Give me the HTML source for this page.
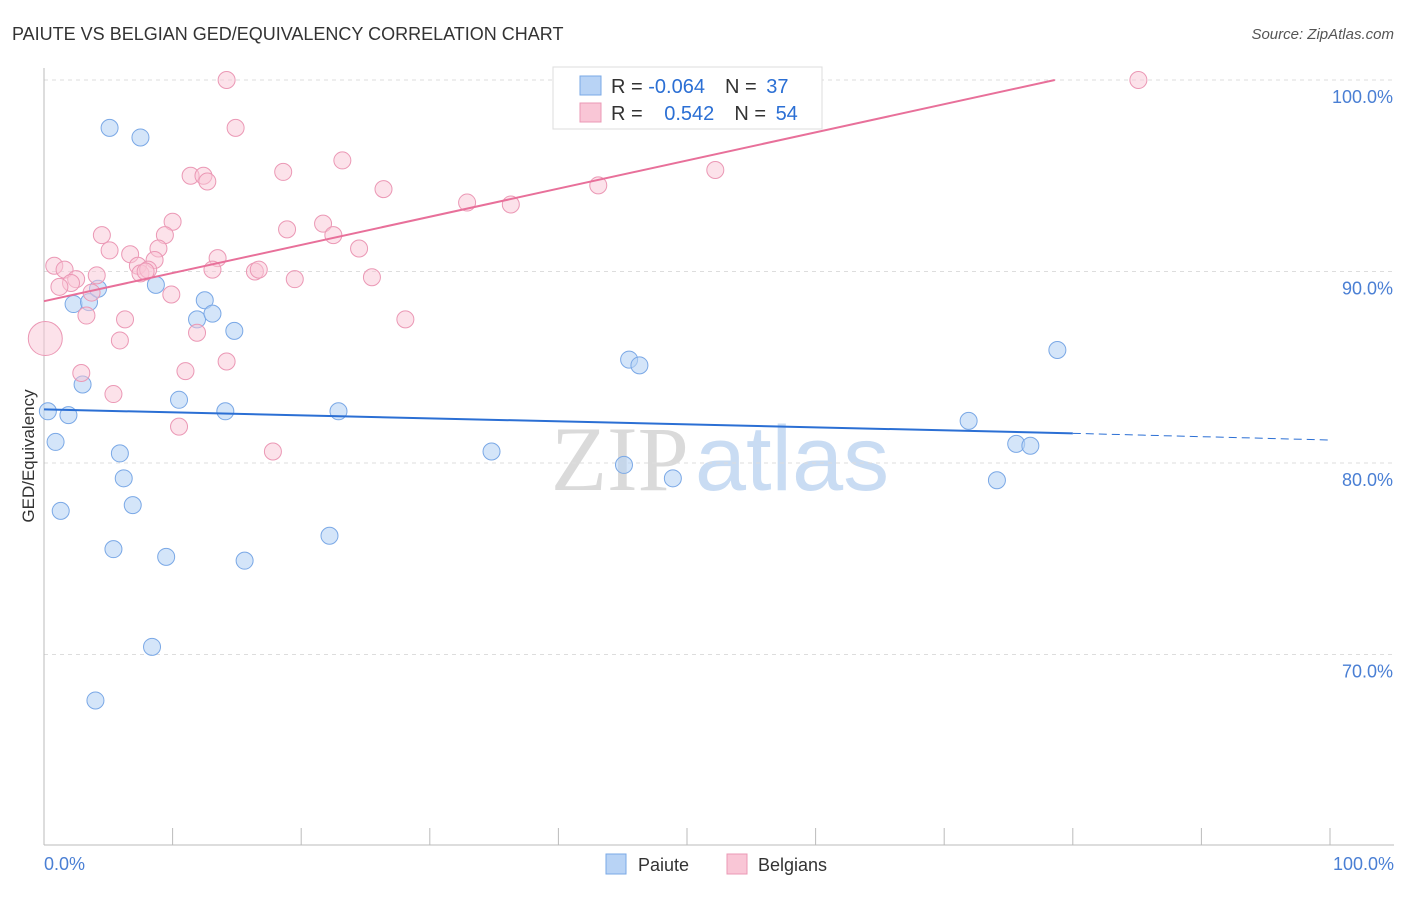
<!DOCTYPE html>
<html><head><meta charset="utf-8"><style>
body{margin:0;background:#fff;font-family:"Liberation Sans",sans-serif;}
</style></head><body>
<svg id="chart" width="1406" height="892" xmlns="http://www.w3.org/2000/svg" style="font-family:'Liberation Sans',sans-serif">
<text x="12" y="40" font-size="18" fill="#333">PAIUTE VS BELGIAN GED/EQUIVALENCY CORRELATION CHART</text>
<text x="1394" y="39" font-size="15" fill="#555" text-anchor="end" font-style="italic">Source: ZipAtlas.com</text>
<text x="720" y="490" font-size="92" text-anchor="middle"><tspan fill="#dadada" font-family="Liberation Serif">ZIP</tspan><tspan fill="#c9dcf3" dx="6">atlas</tspan></text>
<g id="grid"></g><g id="axes"></g><g id="pts"></g><g id="lines"></g>
<text transform="translate(34,456) rotate(-90)" font-size="17" fill="#333" text-anchor="middle">GED/Equivalency</text>
<text x="44" y="870" font-size="18" fill="#4a7fd4">0.0%</text>
<text x="1394" y="870" font-size="18" fill="#4a7fd4" text-anchor="end">100.0%</text>
<g>
<rect x="553" y="67" width="269" height="62" fill="#fff" stroke="#ddd"/>
<rect x="580" y="76" width="21" height="19" fill="#b8d3f5" stroke="#7aa8e6"/>
<rect x="580" y="103" width="21" height="19" fill="#f9c6d6" stroke="#eb98b5"/>
<text x="611" y="93" font-size="20" fill="#333">R = <tspan fill="#2b6fd4">-0.064</tspan><tspan dx="20" fill="#333">N = </tspan><tspan fill="#2b6fd4" dx="4">37</tspan></text>
<text x="611" y="120" font-size="20" fill="#333">R = <tspan fill="#2b6fd4" dx="16">0.542</tspan><tspan dx="20" fill="#333">N = </tspan><tspan fill="#2b6fd4" dx="4">54</tspan></text>
</g>
<g>
<rect x="606" y="854" width="20" height="20" fill="#b8d3f5" stroke="#7aa8e6"/>
<text x="638" y="871" font-size="18" fill="#333">Paiute</text>
<rect x="727" y="854" width="20" height="20" fill="#f9c6d6" stroke="#eb98b5"/>
<text x="758" y="871" font-size="18" fill="#333">Belgians</text>
</g>
</svg>
<script>
const yTicks=[100,90,80,70];
const yTickLabels=["100.0%","90.0%","80.0%","70.0%"];
const paiuteX=[5.1,7.5,0.3,0.9,1.3,1.9,2.3,3.0,3.5,4.2,4.0,5.4,5.9,6.2,6.9,8.4,8.7,9.5,10.5,11.9,12.5,13.1,14.1,14.8,15.6,22.2,22.9,34.8,45.1,45.5,46.3,48.9,71.9,74.1,75.6,76.7,78.8];
const paiuteY=[97.5,97.0,82.7,81.1,77.5,82.5,88.3,84.1,88.4,89.1,67.6,75.5,80.5,79.2,77.8,70.4,89.3,75.1,83.3,87.5,88.5,87.8,82.7,86.9,74.9,76.2,82.7,80.6,79.9,85.4,85.1,79.2,82.2,79.1,81.0,80.9,85.9];
const belgX=[14.2,85.1,14.9,23.2,11.4,12.4,12.7,18.6,26.4,43.1,52.2,32.9,36.3,10.0,18.9,21.7,22.5,4.5,5.1,9.4,8.9,6.7,7.3,8.6,13.5,24.5,0.8,1.6,2.5,4.1,7.5,8.1,13.1,16.4,16.7,19.5,25.5,2.1,1.2,3.7,9.9,3.3,6.3,28.1,11.9,5.9,0.1,2.9,11.0,14.2,5.4,10.5,17.8,7.9];
const belgY=[100.0,100.0,97.5,95.8,95.0,95.0,94.7,95.2,94.3,94.5,95.3,93.6,93.5,92.6,92.2,92.5,91.9,91.9,91.1,91.9,91.2,90.9,90.3,90.6,90.7,91.2,90.3,90.1,89.6,89.8,89.9,90.1,90.1,90.0,90.1,89.6,89.7,89.4,89.2,88.9,88.8,87.7,87.5,87.5,86.8,86.4,86.5,84.7,84.8,85.3,83.6,81.9,80.6,90.0];
const belgW=[1,1,1,1,1,1,1,1,1,1,1,1,1,1,1,1,1,1,1,1,1,1,1,1,1,1,1,1,1,1,1,1,1,1,1,1,1,1,1,1,1,1,1,1,1,1,2,1,1,1,1,1,1,1];
const paiuteTrend=[[0,82.8],[80,81.55],[100,81.2]];
const belgTrend=[[0,88.45],[78.6,100]];
const NS="http://www.w3.org/2000/svg";
const X=v=>44+v*12.86, Y=v=>80+(100-v)*19.15;
function mk(t,a,p){const e=document.createElementNS(NS,t);for(const k in a)e.setAttribute(k,a[k]);document.getElementById(p).appendChild(e);return e;}
yTicks.forEach((t,i)=>{
 const g=mk('line',{x1:44,x2:1394,y1:Y(t),y2:Y(t),stroke:'#ddd','stroke-dasharray':'4,4'},'grid');
 
 
 const l=mk('text',{x:1393,y:Y(t)+23,'font-size':18,fill:'#4a7fd4','text-anchor':'end'},'grid');
 
 
 l.textContent=yTickLabels[i];
});
const ax=mk('line',{x1:44,x2:44,y1:68,y2:845,stroke:'#bbb'},'axes');


const bx=mk('line',{x1:44,x2:1394,y1:845,y2:845,stroke:'#bbb'},'axes');


for(let i=0;i<=10;i++){const t=mk('line',{x1:X(i*10),x2:X(i*10),y1:828,y2:845,stroke:'#bbb'},'axes');
 
 }
paiuteX.forEach((v,i)=>{const c=mk('circle',{cx:X(v),cy:Y(paiuteY[i]),r:8.5,fill:'rgba(184,211,245,0.6)',stroke:'#7aa8e6','stroke-width':1},'pts');
 
 });
belgX.forEach((v,i)=>{const c=mk('circle',{cx:X(v),cy:Y(belgY[i]),r:8.5*belgW[i],fill:'rgba(249,198,214,0.5)',stroke:'#eb98b5','stroke-width':1},'pts');
 
 });
const p1=mk('line',{x1:X(paiuteTrend[0][0]),y1:Y(paiuteTrend[0][1]),x2:X(paiuteTrend[1][0]),y2:Y(paiuteTrend[1][1]),stroke:'#2b6fd4','stroke-width':2},'lines');


const p2=mk('line',{x1:X(paiuteTrend[1][0]),y1:Y(paiuteTrend[1][1]),x2:X(paiuteTrend[2][0]),y2:Y(paiuteTrend[2][1]),stroke:'#2b6fd4','stroke-width':1,'stroke-dasharray':'8,5'},'lines');


const b1=mk('line',{x1:X(belgTrend[0][0]),y1:Y(belgTrend[0][1]),x2:X(belgTrend[1][0]),y2:Y(belgTrend[1][1]),stroke:'#e8709a','stroke-width':2},'lines');


</script>
</body></html>
